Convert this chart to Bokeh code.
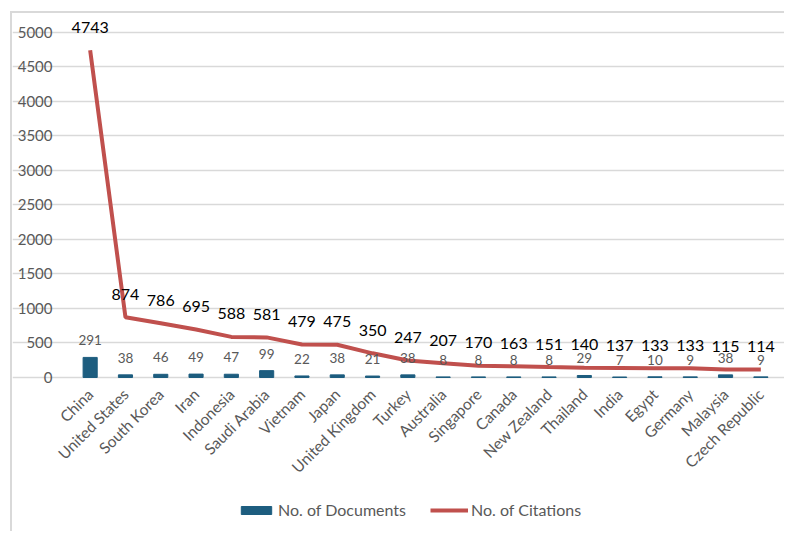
from bokeh.plotting import figure
from bokeh.models import (ColumnDataSource, Range1d, FixedTicker, Legend, LegendItem)
from bokeh.core.properties import value
from bokeh.embed import file_html
from bokeh.resources import INLINE

# Publications and citations per country
countries = ["China", "United States", "South Korea", "Iran", "Indonesia", "Saudi Arabia",
             "Vietnam", "Japan", "United Kingdom", "Turkey", "Australia", "Singapore",
             "Canada", "New Zealand", "Thailand", "India", "Egypt", "Germany",
             "Malaysia", "Czech Republic"]
documents = [291, 38, 46, 49, 47, 99, 22, 38, 21, 38, 8, 8, 8, 8, 29, 7, 10, 9, 38, 9]
citations = [4743, 874, 786, 695, 588, 581, 479, 475, 350, 247, 207, 170, 163, 151,
             140, 137, 133, 133, 115, 114]
y_ticks = [0, 500, 1000, 1500, 2000, 2500, 3000, 3500, 4000, 4500, 5000]

FONT = "Lato"
GREY = "#595959"
BAR = "#1d5d7f"
LINE = "#c0504d"

pos = list(range(len(countries)))
src = ColumnDataSource(dict(
    pos=pos,
    docs=documents,
    cites=citations,
    docs_txt=[str(v) for v in documents],
    cites_txt=[str(v) for v in citations],
))

# The frame fills the whole canvas; axes are pinned inside it so that
# the rotated country names and the legend are never clipped.
p = figure(
    x_range=Range1d(-2.2, 19.727),
    y_range=Range1d(-2261, 5275),
    width=774, height=520,
    output_backend="svg", toolbar_location=None,
    min_border_left=0, min_border_right=0, min_border_top=0, min_border_bottom=0,
)
p.margin = (11, 0, 0, 10)
p.styles = {"border-left": "2px solid #d9d9d9", "border-top": "2px solid #d9d9d9"}
p.outline_line_color = None
p.background_fill_color = "white"
p.border_fill_color = "white"

bars = p.vbar(x="pos", top="docs", width=0.4, source=src, color=BAR)
line = p.line(x="pos", y="cites", source=src, line_color=LINE, line_width=4)

# value labels
p.text(x="pos", y="docs", text="docs_txt", source=src, text_align="center",
       text_baseline="middle", y_offset=-17, text_font=value(FONT),
       text_font_size="13.5px", text_color=GREY)
p.text(x="pos", y="cites", text="cites_txt", source=src, text_align="center",
       text_baseline="middle", y_offset=-23, text_font=value(FONT),
       text_font_size="16px", text_color="black")

# y axis at the left edge of the category band
p.yaxis.fixed_location = -0.5
p.yaxis.ticker = FixedTicker(ticks=y_ticks)
p.yaxis.axis_line_color = None
p.yaxis.major_tick_line_color = None
p.yaxis.minor_tick_line_color = None
p.yaxis.major_label_standoff = 14
p.yaxis.major_label_text_font = FONT
p.yaxis.major_label_text_font_size = "15px"
p.yaxis.major_label_text_color = GREY

# category axis along y = 0
p.xaxis.fixed_location = 0
p.xaxis.ticker = FixedTicker(ticks=pos)
p.xaxis.major_label_overrides = {i: name for i, name in zip(pos, countries)}
p.xaxis.axis_line_color = None
p.xaxis.major_tick_line_color = None
p.xaxis.minor_tick_line_color = None
p.xaxis.major_label_orientation = 0.785398
p.xaxis.major_label_standoff = 8
p.xaxis.major_label_text_font = FONT
p.xaxis.major_label_text_font_size = "15.5px"
p.xaxis.major_label_text_color = GREY

p.xgrid.grid_line_color = None
p.ygrid.grid_line_color = "#d9d9d9"
p.ygrid.grid_line_width = 1.5
p.ygrid.bounds = (-0.5, 19.5)

legend = Legend(
    items=[LegendItem(label="No. of Documents", renderers=[bars]),
           LegendItem(label="No. of Citations", renderers=[line])],
    orientation="horizontal", location=(225, 14),
    border_line_color=None, background_fill_alpha=0,
    padding=0, margin=0, spacing=24,
    glyph_width=38, glyph_height=10, label_standoff=3, label_height=14,
    label_text_font=FONT, label_text_font_size="16px", label_text_color=GREY,
)
p.add_layout(legend, "center")

open("out.html", "w").write(file_html(p, INLINE))
